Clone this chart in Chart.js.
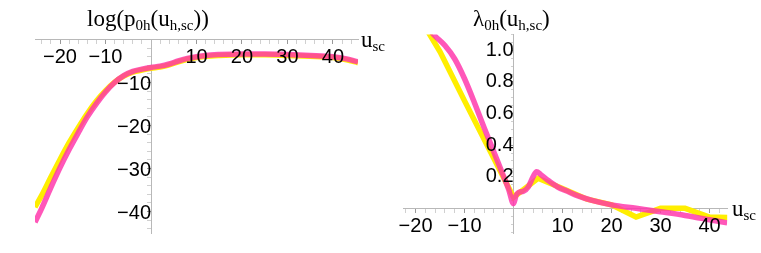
<!DOCTYPE html>
<html>
<head>
<meta charset="utf-8">
<script src="https://cdn.jsdelivr.net/npm/chart.js@4.4.1/dist/chart.umd.min.js"></script>
<style>
  body { margin: 0; background: #fff; width: 761px; height: 253px; overflow: hidden; position: relative; }
  canvas { position: absolute; top: 0; }
  #cLeft { left: 0; }
  #cRight { left: 380px; }
  .lab { position: absolute; font-family: "Liberation Serif", serif; font-size: 23px; line-height: 23px; white-space: nowrap; color: #000; }
  .lab span { font-size: 15px; position: relative; top: 4px; }
</style>
</head>
<body>
<canvas id="cLeft" width="380" height="253"></canvas>
<canvas id="cRight" width="381" height="253"></canvas>
<div class="lab" style="left:87px; top:7px">log(p<span>0h</span>(u<span>h,sc</span>))</div>
<div class="lab" style="left:473px; top:7px">λ<span>0h</span>(u<span>h,sc</span>)</div>
<div class="lab" style="left:361px; top:28px">u<span>sc</span></div>
<div class="lab" style="left:732px; top:197px">u<span>sc</span></div>
<script>
// --- left panel: log(p0h) ---
const leftU = [-25.5, -24, -22, -20, -18, -16, -14, -12, -10, -8, -6, -4, -2, 0, 2, 4, 6, 8, 10, 12, 15, 20, 25, 30, 35, 40, 43, 45.5];
const leftYellow = [-39.0, -36.2, -32.0, -27.9, -24.0, -20.5, -17.2, -14.3, -11.9, -9.9, -8.5, -7.6, -7.1, -6.7, -6.4, -5.9, -5.2, -4.6, -4.2, -3.9, -3.7, -3.55, -3.55, -3.7, -3.9, -4.2, -4.7, -5.4];
const leftPink = [-42.5, -39.2, -34.4, -29.8, -25.6, -21.7, -18.0, -14.9, -12.2, -10.0, -8.4, -7.4, -6.9, -6.5, -6.2, -5.7, -5.0, -4.4, -4.0, -3.7, -3.5, -3.35, -3.35, -3.5, -3.7, -4.0, -4.5, -5.2];
const leftXTicks = [-20, -10, 10, 20, 30, 40];
const leftYTicks = [-10, -20, -30, -40];

// --- right panel: lambda0h ---
const rightYellowU = [-25, -20, -15, -10, -5, 0, 5, 10, 15, 20, 25, 30, 35, 40, 45];
const rightYellow = [1.5, 1.25, 0.99, 0.68, 0.375, 0.07, 0.19, 0.125, 0.058, 0.022, -0.055, 0.0, 0.0, -0.055, -0.06];
const rightPinkU = [-22.5, -20, -18, -16, -14, -12, -10, -8, -6, -4, -2, -1, 0, 0.5, 1, 2, 3, 4, 4.7, 5.5, 7, 9, 11, 13, 16, 20, 25, 30, 35, 40, 43.6];
const rightPink = [1.35, 1.25, 1.16, 1.09, 1.03, 0.945, 0.82, 0.67, 0.51, 0.355, 0.2, 0.12, 0.03, 0.08, 0.1, 0.108, 0.135, 0.2, 0.232, 0.215, 0.178, 0.135, 0.108, 0.08, 0.05, 0.022, 0.0, -0.022, -0.045, -0.072, -0.092];
const rightXTicks = [-20, -10, 10, 20, 30, 40];
const rightYTicks = [0.2, 0.4, 0.6, 0.8, 1.0];

const yellow = 'rgb(255, 238, 0)';
const pink = 'rgba(255, 50, 170, 0.82)';
const axisGrey = '#b8b8b8';

function pts(xs, ys) { return xs.map((x, i) => ({ x: x, y: ys[i] })); }

// majors plus minor ticks between them
function withMinors(majors, min, max, step) {
    const out = majors.slice();
    for (let k = Math.ceil(min / step); k * step <= max; k++) {
        const v = +(k * step).toFixed(6);
        if (Math.abs(v) < 1e-9) continue;
        if (!majors.some(m => Math.abs(m - v) < 1e-9)) out.push(v);
    }
    return out.sort((a, b) => a - b);
}

function isMajor(majors, v) { return majors.some(m => Math.abs(m - v) < 1e-9); }
function minusFmt(v) { return v < 0 ? '\u2212' + Math.abs(v) : String(v); }

function axis(opts) {
    const ticks = withMinors(opts.majors, opts.min, opts.max, opts.minor);
    return {
        type: 'linear',
        min: opts.min, max: opts.max,
        position: opts.position,
        afterBuildTicks: s => { s.ticks = ticks.map(v => ({ value: v })); },
        border: { color: axisGrey, width: 1 },
        grid: {
            drawOnChartArea: false, drawTicks: true, tickLength: opts.tickLength,
            tickColor: c => isMajor(opts.majors, c.tick.value) ? '#999' : '#d0d0d0'
        },
        ticks: {
            z: 1,   // labels sit over the curves, as in the original
            autoSkip: false, maxRotation: 0, padding: opts.padding, labelOffset: opts.labelOffset || 0,
            color: '#000', font: { family: 'Liberation Sans', size: 20 },
            callback: v => isMajor(opts.majors, v) ? opts.fmt(v) : ''
        }
    };
}

// pink is listed first so it is painted over the yellow
function lineSet(data, color, smooth) {
    const ds = { data: data, borderColor: color, borderWidth: 5.5, pointRadius: 0, fill: false, clip: 0, tension: 0 };
    if (smooth) ds.cubicInterpolationMode = 'monotone';
    return ds;
}

new Chart(document.getElementById('cLeft'), {
    type: 'line',
    data: { datasets: [lineSet(pts(leftU, leftPink), pink, true), lineSet(pts(leftU, leftYellow), yellow, true)] },
    options: {
        responsive: false, animation: false,
        layout: { padding: { left: 35, right: 22, top: 39.5, bottom: 20 } },
        plugins: { legend: { display: false }, tooltip: { enabled: false } },
        scales: {
            x: axis({ min: -25.5, max: 45.5, majors: leftXTicks, minor: 2, position: { y: 0 }, tickLength: 4, padding: 2, fmt: minusFmt }),
            y: axis({ min: -45, max: 0, majors: leftYTicks, minor: 2, position: { x: 0 }, tickLength: 4, padding: 0, labelOffset: 2, fmt: minusFmt })
        }
    }
});

new Chart(document.getElementById('cRight'), {
    type: 'line',
    data: { datasets: [lineSet(pts(rightPinkU, rightPink), pink, true), lineSet(pts(rightYellowU, rightYellow), yellow, false)] },
    options: {
        responsive: false, animation: false,
        layout: { padding: { left: 23.3, right: 33.8, top: 34.5, bottom: 19.4 } },
        plugins: { legend: { display: false }, tooltip: { enabled: false } },
        scales: {
            x: axis({ min: -22.5, max: 43.6, majors: rightXTicks, minor: 2, position: { y: 0 }, tickLength: 4, padding: 2, fmt: minusFmt }),
            y: axis({ min: -0.16, max: 1.1, majors: rightYTicks, minor: 0.05, position: { x: 0 }, tickLength: 2, padding: 0, fmt: v => v.toFixed(1) })
        }
    }
});
</script>
</body>
</html>
